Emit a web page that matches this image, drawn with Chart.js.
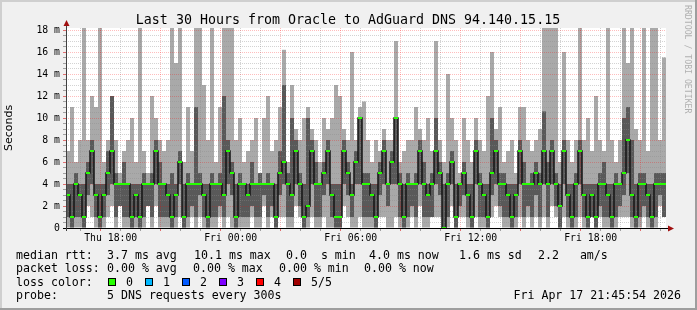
<!DOCTYPE html>
<html>
<head>
<meta charset="utf-8">
<script src="https://cdn.jsdelivr.net/npm/chart.js@4"></script>
<style>
  html, body { margin: 0; padding: 0; background: #f0f0f0; }
  canvas { display: block; }
</style>
</head>
<body>
<canvas id="chart" width="697" height="310"></canvas>
<script>
// data: 150 bins of 12 minutes, Thu 15:45:54 .. Fri 21:45:54, values in ms
const startHour = 15 + 45 / 60 + 54 / 3600;
const binMinutes = 12;

const medianRtt = [
  3,1,4,3,1,5,7,3,1,3,5,7,4,4,4,4,1,3,1,4,4,4,7,4,4,
  3,1,3,6,1,4,4,4,4,3,1,4,4,4,3,7,5,1,4,4,3,4,4,4,4,
  4,4,1,5,6,4,3,7,4,1,2,7,4,4,5,7,3,1,1,7,5,3,6,10,4,
  4,3,1,5,7,4,6,10,4,1,4,4,4,7,4,3,4,7,5,0,4,6,1,4,5,
  3,1,7,4,3,1,5,7,4,4,3,1,3,7,4,4,4,5,4,7,4,7,4,2,7,
  3,1,4,7,3,1,3,1,4,4,3,1,4,4,5,8,3,1,4,4,3,1,4,4,4
];
const darkLow = [
  1,0,1,1,0,3,4,1,0,1,3,4,1,2,1,1,0,1,0,1,2,1,4,1,1,
  1,0,1,4,0,1,2,1,3,1,0,1,1,2,1,4,3,0,1,1,1,2,1,1,3,
  1,2,0,3,4,1,1,4,2,0,1,4,1,1,3,4,1,0,0,4,3,1,4,4,1,
  1,1,0,3,4,2,4,4,1,0,1,2,1,4,1,1,1,4,3,0,1,4,0,2,3,
  1,0,4,1,1,0,3,4,2,1,1,0,1,4,1,2,1,3,1,4,1,4,2,0,4,
  1,0,1,4,1,0,1,0,2,1,1,0,1,2,3,5,1,0,1,2,1,0,1,3,1
];
const darkHigh = [
  4,4,5,4,4,6,8,4,4,4,7,12,5,4,6,4,4,4,4,5,4,5,8,6,4,
  4,5,4,7,4,5,4,11,5,4,4,5,4,5,12,8,6,4,5,4,4,6,4,5,4,
  5,4,4,7,13,5,10,8,5,4,10,8,6,4,6,8,4,4,4,8,6,4,7,10,5,
  5,4,4,6,8,4,7,10,5,4,5,4,5,8,6,4,5,10,6,4,5,7,4,4,6,
  4,4,8,5,4,4,10,8,5,5,4,4,4,8,6,4,5,6,5,10.6,6,8,5,4,8,
  4,4,5,8,4,4,4,4,5,6,4,4,5,4,10,11,8,4,5,5,4,4,5,5,5
];
const lightLow = [
  0,0,0,0,0,2,1,0,0,0,1,2,0,2,0,0,0,0,0,0,2,0,2,0,0,
  0,0,0,1,0,0,1,0,1,0,0,0,0,1,0,1,0,0,0,0,0,1,0,0,2,
  0,1,0,1,1,0,0,2,1,0,0,1,0,0,1,0,0,0,0,2,1,0,0,1,0,
  0,0,0,1,1,0,0,1,0,0,0,1,0,2,0,0,1,1,1,0,0,2,0,1,1,
  0,0,1,0,0,0,1,2,1,0,0,0,0,1,0,1,0,1,0,1,0,2,1,0,1,
  0,0,0,1,0,0,1,0,1,0,0,0,0,1,1,1,0,0,0,1,0,0,0,2,1
];
const lightHigh = [
  7,11,6,8,20,8,12,11,20,6,8,12,8,5,7,8,10,6,20,7,5,12,10,8,7,
  8,20,15,20,6,11,7,20,20,13,8,20,6,11,20,20,20,8,10,6,7,8,10,5,10,
  12,7,8,11,16.2,6,13,9,8,10,11,9,8,6,10,9,10,13,12,9,8,16,8,11,11.5,
  8,6,8,7,9,8,8,17,6,7,8,8,11,9,8,10,7,17,8,6,14,10,8,5,10,
  8,6,10,8,7,12,16,9,11,6,7,8,5,11,11,8,7,8,9,20,20,20,20,6,16,
  8,6,8,20,8,10,7,12,8,7,20,8,6,8,20,15,20,9,8,20,7,20,20,8,15.5
];

const xLabelHours = [18, 24, 30, 36, 42];
const xLabelTexts = ['Thu 18:00', 'Fri 00:00', 'Fri 06:00', 'Fri 12:00', 'Fri 18:00'];
const yLabelValues = [0, 2, 4, 6, 8, 10, 12, 14, 16, 18];

const titleText = 'Last 30 Hours from Oracle to AdGuard DNS 94.140.15.15';
const statRtt = ['median rtt:', '3.7 ms avg', '10.1 ms max', '0.0  s min', '4.0 ms now', '1.6 ms sd', '2.2   am/s'];
const statLoss = ['packet loss:', '0.00 % avg', '0.00 % max', '0.00 % min', '0.00 % now'];
const lossLabels = ['0', '1', '2', '3', '4', '5/5'];
const lossColors = ['#26ff00', '#00b8ff', '#0059ff', '#7e00ff', '#ff0000', '#a00000'];
const probeText = ['probe:', '5 DNS requests every 300s'];
const stampText = 'Fri Apr 17 21:45:54 2026';
const watermark = 'RRDTOOL / TOBI OETIKER';

const binCount = medianRtt.length;
const yTop = 200 / 11;
const mono = '"DejaVu Sans Mono", monospace';
const majorGrid = 'rgba(255,0,0,0.26)';
const minorGrid = 'rgba(140,140,140,0.38)';
const lateSets = [2, 3]; // median line + dots go over the grid

function hourToBin(h) {
    return (h - startHour) * 60 / binMinutes;
}

let gridHours = [];
for (let h = Math.ceil(startHour); h <= startHour + 30; h++) gridHours.push(h);
let gridValues = [];
for (let v = 0; v <= 18; v += 0.5) gridValues.push(v);

const centers = medianRtt.map((m, i) => i + 0.5);

const rrdLook = {
    id: 'rrdLook',
    beforeDraw(chart) {
        const { ctx, chartArea: a, width, height } = chart;
        ctx.save();
        ctx.fillStyle = '#f0f0f0';
        ctx.fillRect(0, 0, width, height);
        ctx.fillStyle = '#cfcfcf';
        ctx.fillRect(0, 0, width, 2);
        ctx.fillRect(0, 0, 2, height);
        ctx.fillStyle = '#9e9e9e';
        ctx.fillRect(0, height - 2, width, 2);
        ctx.fillRect(width - 2, 0, 2, height);
        ctx.fillStyle = '#ffffff';
        ctx.fillRect(a.left, a.top, a.right - a.left, a.bottom - a.top);
        ctx.restore();
    },
    beforeDatasetDraw(chart, args) {
        if (lateSets.includes(args.index) && !chart.$lateDraw) return false;
    },
    afterDraw(chart) {
        const { ctx, chartArea: a } = chart;

        // median drawn after the grid layer
        ctx.save();
        ctx.beginPath();
        ctx.rect(a.left, a.top, a.right - a.left, a.bottom - a.top);
        ctx.clip();
        chart.$lateDraw = true;
        lateSets.forEach(i => chart.getDatasetMeta(i).controller.draw());
        chart.$lateDraw = false;
        ctx.restore();

        ctx.save();
        // axes
        ctx.lineWidth = 1;
        ctx.strokeStyle = '#000000';
        ctx.beginPath();
        ctx.moveTo(a.left - 3, a.bottom + 0.5);
        ctx.lineTo(a.right + 3, a.bottom + 0.5);
        ctx.stroke();
        ctx.strokeStyle = '#404040';
        ctx.beginPath();
        ctx.moveTo(a.left + 0.5, a.bottom + 3);
        ctx.lineTo(a.left + 0.5, a.top - 2);
        ctx.stroke();
        ctx.fillStyle = '#a01010';
        ctx.beginPath();
        ctx.moveTo(a.left - 2.5, a.top - 2);
        ctx.lineTo(a.left + 3.5, a.top - 2);
        ctx.lineTo(a.left + 0.5, a.top - 8);
        ctx.closePath();
        ctx.fill();
        ctx.beginPath();
        ctx.moveTo(a.right + 2, a.bottom - 2.5);
        ctx.lineTo(a.right + 2, a.bottom + 3.5);
        ctx.lineTo(a.right + 8, a.bottom + 0.5);
        ctx.closePath();
        ctx.fill();

        // title
        ctx.fillStyle = '#000000';
        ctx.font = '13.3px ' + mono;
        ctx.textAlign = 'center';
        ctx.textBaseline = 'alphabetic';
        ctx.fillText(titleText, 348, 24);

        // legend
        ctx.font = '11.6px ' + mono;
        ctx.textAlign = 'left';
        const rttX = [16, 107, 194, 286, 369, 459, 538];
        statRtt.forEach((t, i) => ctx.fillText(t, rttX[i], 258.5));
        const lossX = [16, 107, 193, 279, 364];
        statLoss.forEach((t, i) => ctx.fillText(t, lossX[i], 272));
        ctx.fillText('loss color:', 16, 285.5);
        lossLabels.forEach((t, i) => {
            const bx = 108 + i * 37;
            ctx.fillStyle = lossColors[i];
            ctx.fillRect(bx, 278, 8, 8);
            ctx.strokeStyle = '#000000';
            ctx.strokeRect(bx + 0.5, 278.5, 7, 7);
            ctx.fillStyle = '#000000';
            ctx.fillText(t, bx + 18, 285.5);
        });
        ctx.fillText(probeText[0], 16, 299);
        ctx.fillText(probeText[1], 107, 299);
        ctx.textAlign = 'right';
        ctx.fillText(stampText, 681, 299);

        // watermark
        ctx.translate(685, 5);
        ctx.rotate(Math.PI / 2);
        ctx.textAlign = 'left';
        ctx.fillStyle = '#b0b0b0';
        ctx.font = '8.2px ' + mono;
        ctx.fillText(watermark, 0, 0);
        ctx.restore();
    }
};

new Chart(document.getElementById('chart'), {
    type: 'bar',
    data: {
        datasets: [
            {
                label: 'outer smoke',
                data: centers.map((x, i) => ({ x: x, y: [lightLow[i], lightHigh[i]] })),
                backgroundColor: '#a9a9a9',
                order: 4
            },
            {
                label: 'inner smoke',
                data: centers.map((x, i) => ({ x: x, y: [darkLow[i], darkHigh[i]] })),
                backgroundColor: '#595959',
                order: 3
            },
            {
                type: 'line',
                label: 'median steps',
                data: centers.map((x, i) => ({ x: x, y: medianRtt[i] })),
                stepped: 'middle',
                borderColor: '#141414',
                borderWidth: 1.5,
                pointRadius: 0,
                order: 2
            },
            {
                label: 'median',
                data: centers.map((x, i) => ({ x: x, y: [medianRtt[i] - 1 / 11, medianRtt[i] + 1 / 11] })),
                backgroundColor: lossColors[0],
                order: 1
            }
        ]
    },
    options: {
        responsive: false,
        animation: false,
        events: [],
        layout: { padding: { left: 0, top: 28, right: 31, bottom: 62 } },
        datasets: {
            bar: {
                grouped: false,
                barPercentage: 1,
                categoryPercentage: 1,
                borderWidth: 0,
                inflateAmount: 0
            }
        },
        plugins: {
            legend: { display: false },
            tooltip: { enabled: false },
            title: { display: false }
        },
        scales: {
            x: {
                type: 'linear',
                min: 0,
                max: binCount,
                offset: false,
                afterBuildTicks: (scale) => {
                    scale.ticks = gridHours.map(h => ({ value: hourToBin(h), hour: h }));
                },
                afterFit: (scale) => { scale.height = 20; },
                grid: {
                    z: 1,
                    color: (c) => (c.tick && c.tick.hour % 3 === 0 ? majorGrid : minorGrid),
                    tickColor: (c) => (c.tick && c.tick.hour % 3 === 0 ? '#e07070' : '#a0a0a0'),
                    tickLength: 3,
                    tickBorderDash: []
                },
                border: { display: false, dash: [1, 1] },
                ticks: {
                    autoSkip: false,
                    maxRotation: 0,
                    padding: 2,
                    color: '#000000',
                    font: { family: mono, size: 9.8 },
                    callback: (v, i, ticks) => {
                        const k = xLabelHours.indexOf(ticks[i].hour);
                        return k >= 0 ? xLabelTexts[k] : '';
                    }
                }
            },
            y: {
                min: 0,
                max: yTop,
                afterBuildTicks: (scale) => {
                    scale.ticks = gridValues.map(v => ({ value: v }));
                },
                afterFit: (scale) => { scale.width = 66; },
                grid: {
                    z: 1,
                    color: (c) => (c.tick && c.tick.value % 2 === 0 ? majorGrid : minorGrid),
                    tickColor: (c) => (c.tick && c.tick.value % 2 === 0 ? '#e07070' : '#a0a0a0'),
                    tickLength: 3,
                    tickBorderDash: []
                },
                border: { display: false, dash: [1, 1] },
                ticks: {
                    autoSkip: false,
                    padding: 3,
                    color: '#000000',
                    font: { family: mono, size: 9.8 },
                    callback: (v) => {
                        if (!yLabelValues.includes(v)) return '';
                        return v === 0 ? '0' : v + ' m';
                    }
                },
                title: {
                    display: true,
                    text: 'Seconds',
                    color: '#000000',
                    font: { family: '"DejaVu Sans", sans-serif', size: 11 },
                    padding: { top: 3, bottom: 0 }
                }
            }
        }
    },
    plugins: [rrdLook]
});
</script>
</body>
</html>
